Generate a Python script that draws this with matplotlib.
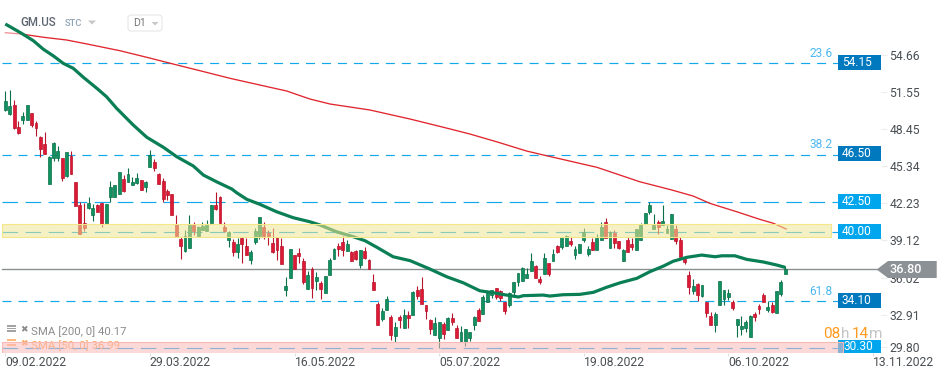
import matplotlib
matplotlib.use('Agg')
import matplotlib.pyplot as plt
from matplotlib.patches import FancyBboxPatch, Polygon, Rectangle
from matplotlib.transforms import IdentityTransform

plt.rcParams['font.family'] = ['Roboto', 'DejaVu Sans']
plt.rcParams['lines.scale_dashes'] = False

W, H = 949, 378

# DATA

open_ = [
    50.21, 49.87, 50.65, 48.81, 49.43, 49.43, 49.96, 49.15, 47.97, 47.36,
    44.07, 46.19, 46.19, 46.19, 44.68, 46.38, 44.18, 42.28, 40.74, 42.06,
    41.41, 42.25, 42.42, 40.80, 42.98, 42.92, 43.17, 44.43, 44.23, 43.98,
    44.15, 44.35, 43.81, 45.49, 45.85, 44.85, 44.29, 43.45, 43.20, 40.69,
    39.43, 38.43, 38.70, 40.60, 39.71, 40.18, 40.10, 40.80, 42.25, 42.92,
    40.44, 39.35, 39.15, 38.34, 39.51, 38.84, 37.67, 39.18, 39.68, 40.44,
    39.93, 39.10, 39.60, 38.84, 35.16, 36.16, 38.09, 38.26, 37.59, 35.24,
    36.92, 35.91, 35.75, 34.94, 36.44, 37.76, 38.84, 39.18, 38.40, 38.34,
    38.43, 37.25, 38.40, 37.64, 35.83, 33.99, 32.73, 33.48, 32.90, 31.31,
    32.90, 31.98, 33.07, 33.07, 35.16, 35.24, 33.90, 32.65, 31.39, 31.14,
    32.31, 31.81, 32.81, 31.98, 30.89, 30.80, 31.14, 32.23, 33.48, 33.15,
    34.16, 34.74, 35.30, 35.08, 34.16, 33.91, 34.99, 35.83, 35.92, 36.17,
    36.78, 37.17, 36.08, 36.50, 37.40, 37.59, 38.85, 38.76, 38.85, 39.27,
    38.09, 38.26, 39.35, 38.18, 39.18, 38.51, 39.35, 40.83, 38.68, 39.94,
    39.27, 37.59, 39.35, 39.01, 38.51, 39.35, 40.69, 41.70, 40.27, 40.86,
    40.61, 39.94, 39.44, 40.27, 39.35, 37.76, 36.42, 35.08, 35.67, 34.66,
    34.16, 32.99, 32.23, 33.91, 34.41, 34.58, 34.16, 32.23, 31.90, 31.98,
    31.23, 33.15, 33.82, 34.75, 33.49, 33.91, 33.24, 34.83, 36.50,
]
high = [
    51.83, 51.91, 51.07, 49.31, 50.04, 50.65, 49.96, 49.31, 48.06, 48.39,
    46.36, 47.56, 47.22, 46.19, 46.72, 46.80, 44.18, 42.50, 42.42, 42.95,
    42.33, 42.33, 42.45, 42.33, 44.29, 43.93, 45.02, 44.79, 45.38, 44.60,
    44.96, 44.35, 44.29, 46.89, 46.13, 44.93, 44.54, 43.65, 43.20, 41.44,
    39.63, 40.18, 41.44, 40.85, 40.52, 40.85, 41.02, 42.25, 43.37, 43.00,
    40.85, 40.10, 39.40, 39.51, 39.57, 39.51, 38.51, 40.35, 41.27, 40.85,
    40.18, 40.35, 39.60, 39.51, 36.25, 38.59, 38.09, 38.68, 37.84, 36.75,
    37.09, 36.67, 35.90, 36.33, 37.84, 38.65, 39.12, 39.68, 39.35, 38.40,
    38.51, 38.51, 38.76, 37.73, 36.50, 34.15, 33.65, 34.66, 33.07, 32.45,
    33.07, 33.57, 33.40, 35.08, 35.50, 36.25, 33.90, 32.73, 32.87, 32.48,
    32.48, 32.90, 33.23, 32.23, 32.12, 31.89, 31.64, 32.98, 33.62, 34.74,
    34.97, 35.16, 35.30, 35.16, 34.16, 34.97, 35.80, 36.59, 37.09, 37.00,
    38.26, 37.26, 36.33, 38.26, 37.40, 38.60, 38.93, 39.60, 39.77, 39.60,
    38.85, 39.01, 40.35, 38.85, 39.52, 39.85, 40.86, 41.19, 40.10, 40.19,
    39.27, 38.60, 39.60, 39.52, 40.27, 40.75, 41.61, 42.53, 41.53, 41.03,
    42.28, 40.61, 41.53, 40.61, 39.60, 37.93, 36.76, 36.09, 35.75, 35.58,
    34.16, 33.32, 33.32, 35.92, 35.16, 35.25, 34.33, 32.71, 32.99, 32.65,
    33.08, 33.32, 33.99, 34.91, 34.24, 34.16, 35.08, 36.00, 37.17,
]
low = [
    50.15, 49.82, 48.64, 48.20, 49.09, 49.43, 48.84, 48.09, 46.33, 46.55,
    44.07, 45.99, 45.99, 44.32, 44.65, 44.85, 42.22, 39.88, 40.10, 41.97,
    40.97, 41.72, 40.44, 40.80, 42.56, 42.92, 43.17, 43.40, 44.23, 43.98,
    44.07, 43.56, 43.40, 45.49, 45.15, 44.07, 42.56, 42.70, 41.47, 39.71,
    37.76, 38.37, 38.70, 39.77, 39.71, 40.18, 40.10, 40.80, 41.86, 40.69,
    40.02, 38.76, 38.01, 37.84, 37.42, 38.09, 37.34, 39.01, 39.43, 39.43,
    38.93, 38.26, 37.67, 37.34, 34.66, 36.16, 36.92, 37.42, 35.66, 35.24,
    34.49, 35.16, 34.41, 34.94, 36.44, 37.76, 38.00, 38.00, 38.40, 37.59,
    37.67, 37.00, 37.76, 36.89, 35.16, 32.23, 32.56, 33.48, 30.97, 30.80,
    31.98, 31.98, 31.98, 33.07, 34.38, 33.99, 32.73, 31.47, 31.39, 30.30,
    31.05, 31.81, 32.23, 31.14, 30.89, 30.47, 30.89, 31.81, 32.59, 33.15,
    34.16, 34.49, 34.41, 34.24, 33.15, 33.74, 34.74, 35.50, 35.92, 36.17,
    36.78, 36.17, 35.66, 36.50, 36.33, 37.59, 38.26, 38.60, 38.85, 38.85,
    37.76, 38.26, 39.18, 38.01, 38.51, 38.51, 39.35, 39.52, 38.68, 38.68,
    38.60, 37.59, 38.34, 38.51, 38.51, 39.35, 40.69, 41.53, 40.27, 39.85,
    40.61, 39.94, 39.44, 39.02, 37.93, 37.34, 34.83, 34.83, 34.24, 34.58,
    32.90, 32.23, 31.65, 33.91, 33.91, 34.33, 33.49, 31.23, 31.39, 31.65,
    31.23, 32.57, 33.15, 34.16, 33.32, 33.24, 33.24, 34.66, 36.50,
]
close = [
    50.99, 50.54, 48.70, 48.34, 49.71, 50.65, 49.01, 48.76, 46.99, 46.58,
    46.27, 47.47, 46.80, 44.51, 46.69, 44.85, 42.22, 39.88, 40.38, 42.45,
    42.00, 41.72, 40.66, 42.33, 43.76, 43.93, 45.02, 43.48, 44.85, 44.18,
    44.51, 43.56, 44.18, 46.47, 45.35, 44.07, 42.81, 43.12, 41.47, 39.71,
    38.84, 39.71, 40.60, 40.10, 40.41, 40.52, 40.66, 42.25, 41.94, 40.80,
    40.10, 40.02, 38.34, 39.01, 39.01, 38.12, 38.34, 40.10, 41.27, 39.68,
    39.68, 38.34, 38.51, 37.34, 35.49, 38.59, 36.92, 38.01, 35.83, 36.42,
    35.33, 36.25, 35.24, 36.33, 37.67, 38.57, 38.62, 38.51, 39.01, 37.62,
    37.76, 38.51, 37.84, 36.89, 35.16, 32.23, 33.40, 34.41, 31.39, 32.06,
    32.65, 33.07, 32.81, 35.00, 34.66, 33.99, 33.40, 31.89, 32.39, 32.48,
    31.47, 32.81, 32.48, 31.14, 31.64, 31.89, 31.64, 32.90, 32.59, 34.58,
    34.88, 35.16, 34.58, 34.49, 33.40, 34.88, 35.80, 36.59, 37.00, 36.50,
    37.59, 36.17, 35.83, 37.84, 36.50, 38.18, 38.34, 39.60, 39.68, 39.01,
    38.60, 39.01, 40.02, 38.60, 38.51, 39.52, 40.44, 39.52, 40.02, 39.10,
    38.68, 38.48, 38.34, 38.76, 40.27, 40.61, 41.61, 42.28, 40.61, 40.44,
    40.94, 40.27, 41.53, 39.27, 37.93, 37.51, 35.42, 35.50, 34.75, 35.58,
    33.24, 32.23, 33.15, 35.92, 35.16, 34.91, 33.66, 32.71, 32.15, 32.48,
    32.99, 32.90, 33.57, 34.16, 33.74, 33.32, 35.08, 35.83, 36.92,
]

# SMA 50 (thick green), read at its bends
sma50_idx = [0, 1.1, 3.7, 6.4, 8.7, 11, 13.2, 15.5, 17.8, 20.9, 23.1, 25.4,
             29.2, 32.3, 36.1, 39.1, 42.9, 45.2, 48.2, 51.7, 52.8, 55.1, 58.1,
             61.9, 65.7, 69.5, 71.8, 75.6, 79.4, 82.1, 84.8, 88.5, 92.4, 96.9,
             100.7, 104.5, 108.3, 111.3, 114.4, 117.1, 118.2, 122.7, 124.3,
             127.3, 131.1, 134.2, 137.2, 140.3, 144.1, 147.1, 150.2, 152.4,
             155.5, 158.9, 162, 163.5, 166.5, 169.2, 173, 176, 178]
sma50_val = [57.44, 57.21, 56.66, 56.04, 55.32, 54.76, 54.15, 53.73, 52.98,
             52.05, 51.35, 50.38, 48.98, 47.95, 47.11, 46.33, 45.55, 44.79,
             44.23, 43.62, 43.31, 42.76, 42.34, 41.72, 41.22, 40.88, 40.61,
             40.04, 39.63, 39.29, 38.74, 37.95, 37.62, 36.92, 36.28, 35.77,
             35.10, 34.94, 34.74, 34.58, 34.69, 34.74, 34.66, 34.77, 34.80,
             34.97, 35.39, 35.77, 36.14, 36.70, 37.17, 37.57, 37.90, 38.09,
             37.95, 38.03, 38.03, 37.73, 37.51, 37.26, 37.06]

# SMA 200 (thin red)
sma200_idx = [0, 3.7, 8.7, 14, 18.6, 26.2, 32.3, 38.3, 44.4, 51.3, 58.1, 64.2,
              69.5, 74.1, 83.2, 92.4, 100, 106, 112.1, 119, 122.8, 135, 144.8,
              152.1, 157, 160.8, 166.9, 172.2, 175.3, 178.2]
sma200_val = [56.71, 56.60, 56.33, 56.10, 55.77, 55.20, 54.65, 54.09, 53.53,
              52.89, 52.33, 51.83, 51.16, 50.74, 50.24, 49.48, 48.79, 48.23,
              47.58, 46.80, 46.47, 45.44, 44.23, 43.54, 43.03, 42.42, 41.72,
              41.08, 40.75, 40.27]

# horizontal levels: label text, drawn height, dash group
level_labels = ['54.15', '46.50', '42.50', '40.00', '34.10', '30.30']
level_pos = [54.15, 46.50, 42.50, 40.00, 34.22, 30.30]
level_dark = [True, True, False, False, True, False]

fib_labels = ['23.6', '38.2', '61.8']
fib_pos = [54.99, 47.31, 35.00]

# shaded zones
yellow_zone = (39.63, 40.69)
pink_zone = (29.89, 30.78)

# axis tick labels; their ticks sit a little off the level scale in the source
price_labels = ['54.66', '51.55', '48.45', '45.34', '42.23', '39.12', '36.02', '32.91', '29.80']
price_pos = [54.84, 51.74, 48.65, 45.55, 42.45, 39.35, 36.17, 33.07, 30.39]
date_labels = ['09.02.2022', '29.03.2022', '16.05.2022', '05.07.2022',
               '19.08.2022', '06.10.2022', '13.11.2022']
date_idx = [0, 33, 66, 99, 132, 165, 198]

# COLORS
UP, UP_EDGE = '#10915f', '#0b7049'
DOWN, DOWN_EDGE = '#dc1a36', '#b8142c'
DARK_TAG, LIGHT_TAG = '#0079bf', '#00a6ed'
DASH = '#12a8ec'
TXT = '#4a4f53'
TAG_LEFT = 190.03   # where the level tags start, in candles
TAG_WIDTH = 9.81


def fx(x):
    return x / W


def fy(y):
    return 1 - y / H


fig = plt.figure(figsize=(W / 100, H / 100), dpi=100, facecolor='white')
# axes runs from the left edge to the price ticks, and down to the date ticks
ax = fig.add_axes([0, 1 - 353 / H, 881 / W, 353 / H])
ax.set_xlim(-1.21, 199.84)
ax.set_ylim(29.89, 59.45)
for s in ax.spines.values():
    s.set_visible(False)

# levels
for pos, dark in zip(level_pos, level_dark):
    style = (0, (6.5, 5)) if dark else (0, (11.2, 5.4))
    ax.plot([-0.75, TAG_LEFT], [pos, pos], color=DASH, lw=0.85, ls=style, zorder=1)

# last price line
ax.plot([-0.75, 199.84], [close[-1], close[-1]], color='#8b8f92', lw=1.0, zorder=1.5)

# candles
for i in range(len(close)):
    up = close[i] >= open_[i]
    ax.vlines(i, low[i], high[i], color=UP_EDGE if up else DOWN_EDGE, lw=0.8, zorder=2)
    ax.bar(i, abs(close[i] - open_[i]), bottom=min(open_[i], close[i]), width=0.66,
           color=UP if up else DOWN, edgecolor=UP_EDGE if up else DOWN_EDGE,
           linewidth=0.5, zorder=2.1)

# moving averages, the first stretch of the red one is washed out in the source
ax.plot(sma200_idx[:2], sma200_val[:2], color='#e0262e', lw=0.95, alpha=0.5, zorder=3)
ax.plot(sma200_idx[1:], sma200_val[1:], color='#e0262e', lw=0.95, zorder=3)
ax.plot(sma50_idx, sma50_val, color='#0a7f55', lw=2.3, zorder=3.1, solid_capstyle='butt')

# legend rows, under the pink zone
for y, col, txt in [(331.7, '#8c8c8c', 'SMA [200, 0] 40.17'), (345.7, '#ffa95e', 'SMA [50, 0] 36.99')]:
    for dy in (-5, -2.5, 0):
        ax.add_patch(Rectangle((fx(7), fy(y + dy)), 9 / W, 1.6 / H, transform=fig.transFigure,
                               color=col, alpha=0.8, clip_on=False, zorder=3.5, lw=0))
    ax.text(fx(24), fy(y - 2), '✖', color=col, fontsize=6.5, family='DejaVu Sans',
            transform=fig.transFigure, ha='center', va='center', zorder=3.5, clip_on=False)
    ax.text(fx(31), fy(y), txt, color=col, fontsize=8.2, transform=fig.transFigure,
            ha='left', va='center', zorder=3.5)

# zones over the candles
ax.add_patch(Rectangle((-0.75, yellow_zone[0]), 189.15, yellow_zone[1] - yellow_zone[0],
                       facecolor='#f0e794', edgecolor='none', alpha=0.55, zorder=4))
ax.add_patch(Rectangle((-0.75, yellow_zone[0]), 189.15, yellow_zone[1] - yellow_zone[0],
                       facecolor='none', edgecolor='#f3e78a', lw=0.8, zorder=4.1))

# level tags
for lab, pos, dark in zip(level_labels, level_pos, level_dark):
    ax.add_patch(Rectangle((TAG_LEFT, pos - 0.55), TAG_WIDTH, 1.24, facecolor=DARK_TAG if dark else LIGHT_TAG,
                           edgecolor='none', zorder=3.8))
    text_x = TAG_LEFT + (1.15 if lab == '30.30' else 0.9)
    ax.text(text_x, pos + 0.1, lab, color='white', fontsize=8.6, ha='left', va='center', zorder=6)

ax.add_patch(Rectangle((-0.75, pink_zone[0]), 191.95, pink_zone[1] - pink_zone[0],
                       facecolor='#fababa', edgecolor='none', alpha=0.55, zorder=4))
ax.add_patch(Rectangle((-0.75, pink_zone[0]), 191.95, pink_zone[1] - pink_zone[0],
                       facecolor='none', edgecolor='#f8b8b4', lw=0.8, zorder=4.1))

# fib labels
for lab, pos in zip(fib_labels, fib_pos):
    ax.text(186.2, pos, lab, color='#4db8f0', fontsize=8.6, ha='center', va='center', zorder=6)

# axis
ax.yaxis.tick_right()
ax.set_yticks(price_pos)
ax.set_yticklabels(price_labels)
ax.set_xticks(date_idx)
ax.set_xticklabels(date_labels)
ax.tick_params(axis='y', length=4.5, width=0.8, color='#ececec', labelcolor=TXT, labelsize=8.7, pad=1.5)
ax.tick_params(axis='x', length=2, width=0.7, color='#dddddd', labelcolor=TXT, labelsize=8.7, pad=0)
for t in ax.get_xticklabels():
    t.set_ha('left')

# current price tag
fig.add_artist(Polygon([(fx(876.7), fy(269.5)), (fx(888), fy(261)), (fx(936.7), fy(261)),
                        (fx(936.7), fy(278)), (fx(888), fy(278))], closed=True,
                       transform=fig.transFigure, facecolor='#8b9194', edgecolor='none', zorder=5))
fig.text(fx(889), fy(269.7), '36.80', color='white', fontsize=9.2, weight='medium',
         ha='left', va='center', zorder=6)

# countdown
for x, txt, col in [(823, '08', '#ff9a1f'), (840.5, 'h', '#c4c4c4'), (852, '14', '#ff9a1f'), (869, 'm', '#c4c4c4')]:
    fig.text(fx(x), fy(333.5), txt, color=col, fontsize=11, ha='left', va='center', zorder=6)

# header
fig.text(fx(20.5), fy(23), 'GM.US', color='#5c6670', fontsize=8.3, weight='medium', ha='left', va='center')
fig.text(fx(65), fy(24), 'STC', color='#8fa3b5', fontsize=6.8, weight='medium', ha='left', va='center')
fig.add_artist(Polygon([(fx(88), fy(20.5)), (fx(96), fy(20.5)), (fx(92), fy(24.5))], closed=True,
                       transform=fig.transFigure, facecolor='#c8c8c8', edgecolor='none'))
fig.add_artist(FancyBboxPatch((128, H - 31), 34, 16, boxstyle='round,pad=0,rounding_size=3',
                              transform=IdentityTransform(), facecolor='white',
                              edgecolor='#e6e6e6', lw=0.8))
fig.text(fx(133), fy(23.5), 'D1', color='#777777', fontsize=7.6, ha='left', va='center')
fig.add_artist(Polygon([(fx(151.5), fy(22)), (fx(158.5), fy(22)), (fx(155), fy(25.5))], closed=True,
                       transform=fig.transFigure, facecolor='#c8c8c8', edgecolor='none'))

fig.savefig('out.png', dpi=100, facecolor='white')
